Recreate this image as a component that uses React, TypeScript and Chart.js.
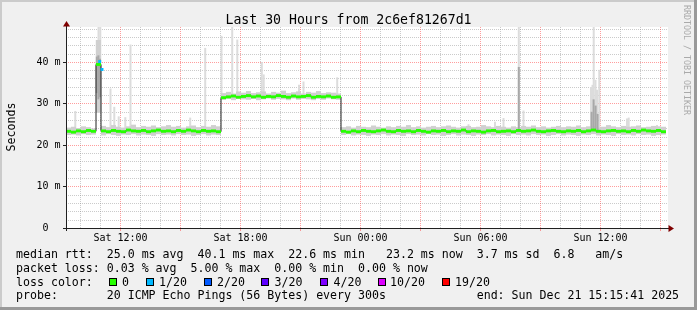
import { useEffect, useRef } from 'react';
import { Chart, registerables } from 'chart.js';

Chart.register(...registerables);

// ---------- texts ----------
const TITLE = 'Last 30 Hours from 2c6ef81267d1';
const Y_LABEL = 'Seconds';
const WATERMARK = 'RRDTOOL / TOBI OETIKER';

// ---------- axes (x in hours since Sat 00:00, y in milliseconds) ----------
const X_MIN = 9.3;
const X_MAX = 39.4;
const Y_MAX = 48.43;
const DATA_START = 9.3; // first consolidated step
const STEP = 0.25; // 15 minute steps

const xTickHours = [12, 18, 24, 30, 36];
const xTickLabels = ['Sat 12:00', 'Sat 18:00', 'Sun 00:00', 'Sun 06:00', 'Sun 12:00'];
const yTickValues = [0, 10, 20, 30, 40];
const yTickLabels = ['0  ', '10 m', '20 m', '30 m', '40 m'];

// ---------- median rtt (ms), one value per 15-minute step (+ final point) ----------
const median = [
  23.3, 23.1, 23.4, 23.2, 23.5, 23.3, 39.4, 23.4, 23.2, 23.5,
  23.3, 23.2, 23.6, 23.4, 23.3, 23.5, 23.2, 23.4, 23.6, 23.3,
  23.4, 23.2, 23.5, 23.3, 23.6, 23.4, 23.2, 23.5, 23.3, 23.4,
  23.2, 31.4, 31.6, 31.8, 31.5, 31.7, 31.9, 31.6, 31.8, 31.5,
  31.7, 31.6, 31.9, 31.7, 31.5, 31.8, 31.6, 31.7, 31.9, 31.5,
  31.7, 31.6, 31.8, 31.5, 31.6, 23.3, 23.1, 23.4, 23.2, 23.5,
  23.3, 23.2, 23.4, 23.6, 23.3, 23.2, 23.5, 23.3, 23.4, 23.2,
  23.5, 23.3, 23.1, 23.4, 23.3, 23.5, 23.2, 23.4, 23.3, 23.6,
  23.2, 23.4, 23.3, 23.1, 23.4, 23.5, 23.2, 23.3, 23.4, 23.2,
  23.5, 23.3, 23.4, 23.6, 23.3, 23.2, 23.4, 23.5, 23.3, 23.2,
  23.4, 23.3, 23.5, 23.2, 23.4, 23.6, 23.3, 23.2, 23.4, 23.5,
  23.3, 23.4, 23.2, 23.5, 23.3, 23.6, 23.4, 23.3, 23.5, 23.2,
  23.2,
];

// ---------- smoke band (min / max of the pings per step) ----------
const smokeLo = [
  22.4, 22.5, 22.3, 22.6, 22.4, 22.5, 27.8, 22.3, 22.6, 22.4,
  22.2, 22.5, 22.4, 22.6, 22.3, 22.5, 22.4, 22.2, 22.6, 22.4,
  22.5, 22.3, 22.6, 22.4, 22.5, 22.2, 22.4, 22.6, 22.3, 22.5,
  22.4, 30.9, 31.1, 30.8, 31.2, 31.0, 30.9, 31.1, 30.8, 31.0,
  31.2, 30.9, 31.1, 31.0, 30.8, 31.2, 30.9, 31.1, 31.0, 30.8,
  31.1, 30.9, 31.2, 31.0, 30.9, 22.4, 22.6, 22.3, 22.5, 22.4,
  22.2, 22.5, 22.4, 22.6, 22.3, 22.5, 22.4, 22.2, 22.6, 22.4,
  22.5, 22.3, 22.6, 22.4, 22.5, 22.2, 22.4, 22.6, 22.3, 22.5,
  22.4, 22.2, 22.5, 22.4, 22.6, 22.3, 22.5, 22.4, 22.2, 22.6,
  22.4, 22.5, 22.3, 22.6, 22.4, 22.5, 22.2, 22.4, 22.6, 22.3,
  22.5, 22.4, 22.2, 22.5, 22.4, 22.6, 22.3, 22.5, 22.4, 22.2,
  22.6, 22.4, 22.5, 22.3, 22.6, 22.4, 22.5, 22.2, 22.4, 22.5,
];
const smokeHi = [
  24.2, 24.4, 24.1, 24.5, 24.3, 24.0, 45.3, 24.6, 24.3, 24.8,
  24.4, 24.2, 24.5, 24.9, 24.3, 24.6, 24.4, 24.7, 24.3, 24.5,
  24.8, 24.4, 24.6, 24.2, 24.5, 24.7, 24.3, 24.6, 24.4, 24.8,
  24.5, 32.5, 32.8, 32.4, 32.9, 32.6, 33.0, 32.5, 32.7, 32.9,
  32.4, 32.8, 32.6, 33.1, 32.5, 32.7, 32.9, 32.4, 32.8, 32.6,
  33.0, 32.5, 32.7, 32.6, 32.4, 24.3, 24.5, 24.2, 24.6, 24.4,
  24.3, 24.7, 24.4, 24.2, 24.5, 24.3, 24.6, 24.4, 24.8, 24.3,
  24.5, 24.2, 24.4, 24.6, 24.3, 24.5, 24.7, 24.4, 24.2, 24.5,
  24.6, 24.3, 24.4, 24.8, 24.5, 24.3, 24.6, 24.4, 24.2, 24.5,
  24.3, 24.6, 24.4, 24.7, 24.3, 24.5, 24.2, 24.4, 24.6, 24.3,
  24.5, 24.4, 24.7, 24.3, 24.5, 24.6, 24.2, 24.4, 24.8, 24.5,
  24.3, 24.6, 24.4, 24.5, 24.7, 24.3, 24.4, 24.6, 24.5, 24.4,
];

// ---------- dense smoke (many pings high) ----------
const darkTimes = [10.84, 10.92, 11.0, 31.94, 35.58, 35.68, 35.78, 35.88];
const darkLo = [32.5, 31.0, 31.5, 23.6, 23.6, 23.6, 23.6, 23.6];
const darkHi = [41.3, 41.6, 40.8, 38.8, 28.0, 31.0, 29.5, 27.5];

// ---------- single-ping outliers (light smoke spikes) ----------
const spikeTimes = [
  9.765, 10.835, 10.925, 11.015, 11.525, 11.715, 11.935, 12.265, 12.525, 15.51,
  16.26, 17.075, 17.61, 17.865, 19.09, 19.185, 20.85, 20.95, 21.175, 22.86,
  29.425, 30.75, 31.175, 31.94, 32.175, 35.55, 35.625, 35.685, 35.775, 35.85,
  35.965, 37.35, 37.435, 38.85,
];
const spikeLo = [
  23.0, 27.8, 27.8, 27.8, 23.0, 23.0, 23.0, 23.0, 23.0, 23.0,
  23.0, 31.5, 31.5, 31.5, 31.5, 31.5, 31.5, 31.5, 31.5, 31.5,
  23.0, 23.0, 23.0, 23.0, 23.0, 23.0, 23.0, 23.0, 23.0, 23.0,
  23.0, 23.0, 23.0, 23.0,
];
const spikeHi = [
  28.2, 45.3, 48.5, 48.5, 33.6, 29.2, 26.9, 26.7, 44.2, 26.6,
  43.4, 46.3, 48.5, 45.4, 40.0, 37.0, 32.8, 34.5, 35.3, 36.3,
  25.0, 25.6, 26.5, 48.5, 28.3, 34.0, 34.5, 48.5, 35.7, 33.3,
  38.1, 26.4, 26.6, 24.8,
];

// ---------- median samples with 1/20 packet loss ----------
const lossTimes = [10.985, 11.1];
const lossValues = [40.1, 38.2];

// ---------- legend ----------
const legendRows = [
  'median rtt:  25.0 ms avg  40.1 ms max  22.6 ms min   23.2 ms now  3.7 ms sd  6.8   am/s',
  'packet loss: 0.03 % avg  5.00 % max  0.00 % min  0.00 % now',
  'loss color:',
  'probe:       20 ICMP Echo Pings (56 Bytes) every 300s',
];
const endText = 'end: Sun Dec 21 15:15:41 2025';
const lossLabels = ['0', '1/20', '2/20', '3/20', '4/20', '10/20', '19/20'];
const lossColors = ['#26ff00', '#00b8ff', '#0059ff', '#5e00ff', '#7e00ff', '#dd00ff', '#ff0000'];

// ---------- layout / style ----------
const W = 697;
const H = 310;
const FONT = '"DejaVu Sans Mono", monospace';
const MINOR = 'rgba(140,140,140,0.45)';
const MAJOR = 'rgba(255,60,60,0.5)';
const AXIS = '#202020';
const ARROW = '#7f0000';
const lossBoxX = [108.5, 145.5, 203.5, 261, 320, 377.5, 441.5];
const lossTextX = [122, 159, 217, 274.5, 333.5, 390, 455];
const legendBaselines = [258.3, 272, 285.5, 299];

const rrdPlugin = {
  id: 'rrdframe',
  beforeDraw(chart: any) {
    const { ctx, chartArea: a } = chart;
    const x = chart.scales.x;
    const y = chart.scales.y;
    ctx.save();
    ctx.fillStyle = '#f0f0f0';
    ctx.fillRect(0, 0, W, H);
    ctx.fillStyle = '#cbcbcb';
    ctx.fillRect(0, 0, W, 2);
    ctx.fillRect(0, 0, 2, H);
    ctx.fillStyle = '#999999';
    ctx.fillRect(0, H - 3, W, 3);
    ctx.fillRect(W - 3, 0, 3, H);
    ctx.fillStyle = '#ffffff';
    ctx.fillRect(a.left, a.top, a.right - a.left, a.bottom - a.top);

    ctx.lineWidth = 1;
    ctx.setLineDash([1, 1]);
    const drawV = (major: boolean) => {
      for (let h = Math.ceil(X_MIN); h <= X_MAX; h++) {
        if ((h % 3 === 0) !== major) continue;
        const px = Math.round(x.getPixelForValue(h)) + 0.5;
        ctx.strokeStyle = major ? MAJOR : MINOR;
        ctx.beginPath();
        ctx.moveTo(px, a.top);
        ctx.lineTo(px, a.bottom);
        ctx.stroke();
      }
    };
    const drawH = (major: boolean) => {
      for (let v = 2; v <= Y_MAX; v += 2) {
        if ((v % 10 === 0) !== major) continue;
        const py = Math.round(y.getPixelForValue(v) - 0.1) + 0.5;
        ctx.strokeStyle = major ? MAJOR : MINOR;
        ctx.beginPath();
        ctx.moveTo(a.left, py);
        ctx.lineTo(a.right, py);
        ctx.stroke();
      }
    };
    drawV(false);
    drawH(false);
    drawV(true);
    drawH(true);
    ctx.restore();
  },
  afterDatasetsDraw(chart: any) {
    const { ctx, chartArea: a } = chart;
    const x = chart.scales.x;
    const y = chart.scales.y;
    ctx.save();
    ctx.setLineDash([]);
    ctx.lineWidth = 1;

    // tick marks
    ctx.strokeStyle = MAJOR;
    for (let h = Math.ceil(X_MIN); h <= X_MAX; h++) {
      if (h % 3 !== 0) continue;
      const px = Math.round(x.getPixelForValue(h)) + 0.5;
      ctx.beginPath();
      ctx.moveTo(px, a.bottom);
      ctx.lineTo(px, a.bottom + 3);
      ctx.stroke();
    }
    ctx.strokeStyle = AXIS;
    yTickValues.forEach((v) => {
      const py = Math.round(y.getPixelForValue(v) - 0.1) + 0.5;
      ctx.beginPath();
      ctx.moveTo(a.left - 3, py);
      ctx.lineTo(a.left, py);
      ctx.stroke();
    });

    // axes
    const ax = a.left + 0.5;
    const ay = a.bottom + 0.5;
    ctx.strokeStyle = AXIS;
    ctx.beginPath();
    ctx.moveTo(a.left - 3, ay);
    ctx.lineTo(a.right + 1, ay);
    ctx.stroke();
    ctx.beginPath();
    ctx.moveTo(ax, a.bottom + 3);
    ctx.lineTo(ax, a.top - 2);
    ctx.stroke();

    // arrows
    ctx.fillStyle = ARROW;
    ctx.beginPath();
    ctx.moveTo(ax - 3.5, a.top - 0.5);
    ctx.lineTo(ax + 3.5, a.top - 0.5);
    ctx.lineTo(ax, a.top - 6);
    ctx.closePath();
    ctx.fill();
    ctx.beginPath();
    ctx.moveTo(a.right + 0.5, ay - 3.5);
    ctx.lineTo(a.right + 0.5, ay + 3.5);
    ctx.lineTo(a.right + 6, ay);
    ctx.closePath();
    ctx.fill();

    // y tick labels
    ctx.fillStyle = '#000000';
    ctx.font = `10px ${FONT}`;
    ctx.textAlign = 'right';
    ctx.textBaseline = 'middle';
    yTickValues.forEach((v, i) => {
      const py = Math.round(y.getPixelForValue(v) - 0.1) + 0.5;
      ctx.fillText(yTickLabels[i], 60.5, py);
    });

    // x tick labels
    ctx.textAlign = 'center';
    ctx.textBaseline = 'alphabetic';
    xTickHours.forEach((h, i) => {
      ctx.fillText(xTickLabels[i], x.getPixelForValue(h) + 0.5, 241);
    });

    // title
    ctx.font = `13.2px ${FONT}`;
    ctx.fillText(TITLE, W / 2, 24);

    // y axis label
    ctx.save();
    ctx.font = `11.6px ${FONT}`;
    ctx.translate(14.5, 127);
    ctx.rotate(-Math.PI / 2);
    ctx.textAlign = 'center';
    ctx.fillText(Y_LABEL, 0, 0);
    ctx.restore();

    // watermark
    ctx.save();
    ctx.font = `8.3px ${FONT}`;
    ctx.fillStyle = '#aaaaaa';
    ctx.translate(683.5, 5);
    ctx.rotate(Math.PI / 2);
    ctx.textAlign = 'left';
    ctx.fillText(WATERMARK, 0, 0);
    ctx.restore();

    // legend
    ctx.font = `11.6px ${FONT}`;
    ctx.textAlign = 'left';
    ctx.fillStyle = '#000000';
    legendRows.forEach((row, i) => ctx.fillText(row, 16, legendBaselines[i]));
    const cw = ctx.measureText('M').width;
    ctx.fillText(endText, 16 + 66 * cw, legendBaselines[3]);
    lossLabels.forEach((lab, i) => {
      const bx = Math.round(lossBoxX[i]);
      ctx.fillStyle = lossColors[i];
      ctx.fillRect(bx, 278, 8, 8);
      ctx.strokeStyle = '#000000';
      ctx.strokeRect(bx + 0.5, 278.5, 7, 7);
      ctx.fillStyle = '#000000';
      ctx.fillText(lab, lossTextX[i], legendBaselines[2]);
    });
    ctx.restore();
  },
};

function buildConfig(): any {
  const stepCenter = (k: number) => DATA_START + STEP * k + STEP / 2;
  const bandData = smokeLo.map((lo, k) => ({ x: stepCenter(k), y: [lo, smokeHi[k]] }));
  const greenData = median.slice(0, smokeLo.length).map((m, k) => ({ x: stepCenter(k), y: [m - 0.35, m + 0.35] }));
  const medianData = median.map((m, k) => ({ x: DATA_START + STEP * k, y: m }));
  const darkData = darkTimes.map((t, i) => ({ x: t, y: [darkLo[i], darkHi[i]] }));
  const spikeData = spikeTimes.map((t, i) => ({ x: t, y: [spikeLo[i], spikeHi[i]] }));
  const lossData = lossTimes.map((t, i) => ({ x: t, y: lossValues[i] }));

  return {
    type: 'bar',
    data: {
      datasets: [
        {
          type: 'scatter',
          data: lossData,
          pointStyle: 'rect',
          pointRadius: 2.1,
          backgroundColor: lossColors[1],
          borderWidth: 0,
          order: 0,
          clip: 0,
        },
        {
          type: 'bar',
          data: greenData,
          backgroundColor: lossColors[0],
          barThickness: 5,
          grouped: false,
          borderWidth: 0,
          inflateAmount: 0,
          order: 1,
          clip: 0,
        },
        {
          type: 'line',
          data: medianData,
          stepped: true,
          borderColor: '#202020',
          borderWidth: 1,
          pointRadius: 0,
          fill: false,
          order: 2,
          clip: 0,
        },
        {
          type: 'bar',
          data: darkData,
          backgroundColor: '#a8a8a8',
          barThickness: 2,
          grouped: false,
          borderWidth: 0,
          inflateAmount: 0,
          order: 3,
          clip: 0,
        },
        {
          type: 'bar',
          data: bandData,
          backgroundColor: '#d0d0d0',
          barThickness: 5,
          grouped: false,
          borderWidth: 0,
          inflateAmount: 0,
          order: 4,
          clip: 0,
        },
        {
          type: 'bar',
          data: spikeData,
          backgroundColor: '#dcdcdc',
          barThickness: 2,
          grouped: false,
          borderWidth: 0,
          inflateAmount: 0,
          order: 5,
          clip: 0,
        },
      ],
    },
    options: {
      animation: false,
      responsive: false,
      maintainAspectRatio: false,
      devicePixelRatio: 1,
      events: [],
      layout: { padding: { left: 66, top: 27, right: W - 668, bottom: H - 228 } },
      scales: {
        x: { type: 'linear', min: X_MIN, max: X_MAX, display: false, offset: false, grid: { offset: false } },
        y: { type: 'linear', min: 0, max: Y_MAX, display: false },
      },
      plugins: { legend: { display: false }, tooltip: { enabled: false } },
    },
    plugins: [rrdPlugin],
  };
}

export default function App() {
  const ref = useRef<HTMLCanvasElement>(null);
  useEffect(() => {
    const chart = new Chart(ref.current as HTMLCanvasElement, buildConfig());
    return () => chart.destroy();
  }, []);
  return (
    <div style={{ position: 'absolute', left: 0, top: 0, width: W, height: H }}>
      <canvas ref={ref} width={W} height={H} style={{ display: 'block', width: W, height: H }} />
    </div>
  );
}
